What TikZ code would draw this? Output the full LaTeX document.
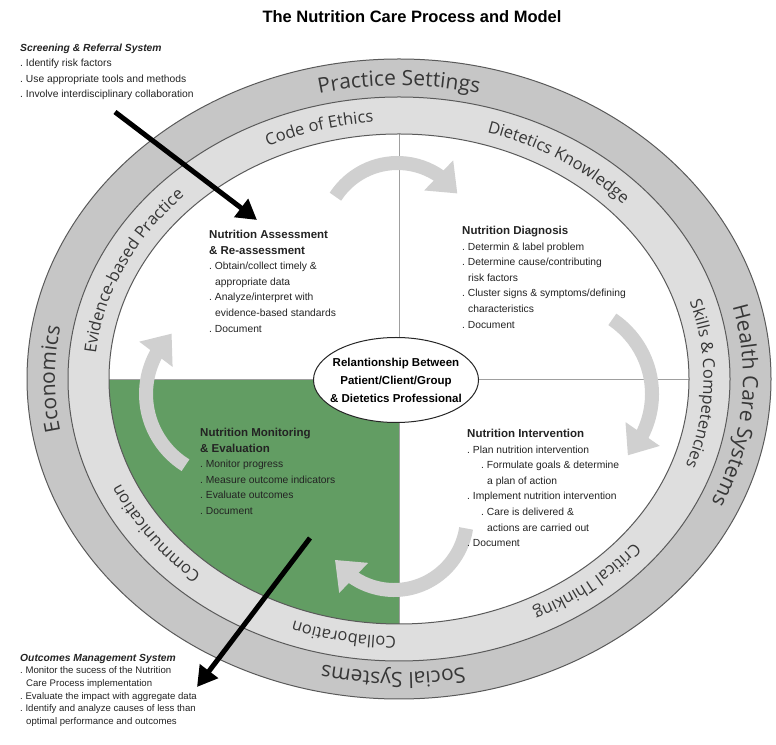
\documentclass[tikz,border=0pt]{standalone}
\usepackage{fontspec}
\setmainfont{Liberation Sans}
\newfontfamily\bodyfont{Liberation Sans}
\newfontfamily\headfont{Liberation Sans}
\newfontfamily\bandfont{Open Sans}
\usetikzlibrary{shapes.geometric}
\usetikzlibrary{arrows.meta}
\usetikzlibrary{bending}
\usetikzlibrary{decorations.text}
\definecolor{outerband}{RGB}{198,198,198}
\definecolor{innerband}{RGB}{222,222,222}
\definecolor{bandline}{RGB}{90,90,90}
\definecolor{quadgreen}{RGB}{98,157,99}
\definecolor{cyclegrey}{RGB}{208,208,208}
\definecolor{labelgrey}{RGB}{55,55,55}
\definecolor{bodytext}{RGB}{35,35,35}
\newcommand{\qhead}[1]{{\headfont\bfseries\fontsize{11.5}{15.6}\selectfont #1}}
\newcommand{\shead}[1]{{\headfont\bfseries\itshape\fontsize{10.3}{12.6}\selectfont #1}}
\tikzset{
    band/.style = {draw=bandline, line width=1pt},
    quadline/.style = {draw=gray!75, line width=0.8pt},
    cyclearrow/.style = {draw=cyclegrey, line width=14pt, -{Triangle[length=26pt,width=40pt]}},
    bigarrow/.style = {draw=black, line width=5pt, -{Triangle[length=20pt,width=22pt]}},
    titlenode/.style = {inner sep=0pt, font=\headfont\bfseries\fontsize{16.5}{18}\selectfont},
    quadtext/.style = {anchor=north west, align=left, inner sep=0pt, text=bodytext, font=\bodyfont\fontsize{10.3}{15.6}\selectfont},
    sidetext/.style = {quadtext, font=\bodyfont\fontsize{10.3}{15.2}\selectfont},
    notetext/.style = {quadtext, font=\bodyfont\fontsize{9.6}{12.6}\selectfont},
    relbox/.style = {ellipse, draw=black!85, fill=white, line width=1pt, minimum width=165pt, minimum height=85pt, inner sep=0pt},
    reltext/.style = {align=center, inner sep=0pt, font=\headfont\bfseries\fontsize{11.5}{18}\selectfont},
    outerlabel/.style = {decorate, decoration={text along path, text align=center, text color=labelgrey, text={|\bandfont\fontsize{21}{21}\selectfont|#1}}},
    innerlabel/.style = {decorate, decoration={text along path, text align=center, text color=labelgrey, text={|\bandfont\fontsize{16.5}{16.5}\selectfont|#1}}}
}
\begin{document}
\begin{tikzpicture}[x=1pt, y=1pt]
  \useasboundingbox (0,0) rectangle (776,744);
  \coordinate (C) at (399,365);
  % rings
  \draw[band, fill=outerband] (C) ellipse [x radius=372pt, y radius=320pt];
  \draw[band, fill=innerband] (C) ellipse [x radius=331pt, y radius=282pt];
  \fill[white] (C) ellipse [x radius=290pt, y radius=245pt];
  \begin{scope}
    \clip (C) ellipse [x radius=290pt, y radius=245pt];
    \fill[quadgreen] (C) rectangle ++(-300,-260);
  \end{scope}
  \draw[quadline] (399,610) -- (399,120);
  \draw[quadline] (109,365) -- (689,365);
  \draw[band] (C) ellipse [x radius=290pt, y radius=245pt];

  % cycle arrows
  \coordinate (topc) at (397.5,507);
  \coordinate (rightc) at (562,350);
  \coordinate (botc) at (394,227);
  \coordinate (leftc) at (230,350);
  \draw[cyclearrow] ([shift={(147:74pt)}]topc) arc[start angle=147, end angle=36, radius=74pt];
  \draw[cyclearrow] ([shift={(56:90pt)}]rightc) arc[start angle=56, end angle=-43, radius=90pt];
  \draw[cyclearrow] ([shift={(-9:73pt)}]botc) arc[start angle=-9, end angle=-144, radius=73pt];
  \draw[cyclearrow] ([shift={(238:84pt)}]leftc) arc[start angle=238, end angle=134, radius=84pt];

  \node[relbox] (rel) at (396,364) {};
  \node[reltext] (reltxt) at (rel.center) {Relantionship Between\\Patient/Client/Group\\\& Dietetics Professional};

  \node[titlenode] (title) at (412,727) {The Nutrition Care Process and Model};

  \node[quadtext] (assess) at (209,514) {\qhead{Nutrition Assessment}\\ \qhead{\& Re-assessment}\\
    .\ Obtain/collect timely \&\\ \hspace*{6pt}appropriate data\\
    .\ Analyze/interpret with\\ \hspace*{6pt}evidence-based standards\\ .\ Document};
  \node[quadtext] (diagnose) at (462,518) {\qhead{Nutrition Diagnosis}\\ .\ Determin \& label problem\\
    .\ Determine cause/contributing\\ \hspace*{6pt}risk factors\\
    .\ Cluster signs \& symptoms/defining\\ \hspace*{6pt}characteristics\\ .\ Document};
  \node[quadtext] (interv) at (467,315) {\qhead{Nutrition Intervention}\\ .\ Plan nutrition intervention\\
    \hspace*{14pt}.\ Formulate goals \& determine\\ \hspace*{20pt}a plan of action\\
    .\ Implement nutrition intervention\\ \hspace*{14pt}.\ Care is delivered \&\\
    \hspace*{20pt}actions are carried out\\ .\ Document};
  \node[quadtext] (monitor) at (200,316) {\qhead{Nutrition Monitoring}\\ \qhead{\& Evaluation}\\
    .\ Monitor progress\\ .\ Measure outcome indicators\\ .\ Evaluate outcomes\\ .\ Document};

  \node[sidetext] (screen) at (20,700) {\shead{Screening \& Referral System}\\ .\ Identify risk factors\\
    .\ Use appropriate tools and methods\\ .\ Involve interdisciplinary collaboration};
  \node[notetext] (outcome) at (20,90) {\shead{Outcomes Management System}\\
    .\ Monitor the sucess of the Nutrition\\ \hspace*{6pt}Care Process implementation\\
    .\ Evaluate the impact with aggregate data\\ .\ Identify and analyze causes of less than\\
    \hspace*{6pt}optimal performance and outcomes};

  % band labels
  \path[outerlabel={Practice Settings}] ([shift={(130:344pt and 293.5pt)}]C) arc[start angle=130, end angle=50, x radius=344pt, y radius=293.5pt];
  \path[outerlabel={Health Care Systems}] ([shift={(35:344pt and 293.5pt)}]C) arc[start angle=35, end angle=-45, x radius=344pt, y radius=293.5pt];
  \path[outerlabel={Social Systems}] ([shift={(-51:344pt and 293.5pt)}]C) arc[start angle=-51, end angle=-131, x radius=344pt, y radius=293.5pt];
  \path[outerlabel={Economics}] ([shift={(220:344pt and 293.5pt)}]C) arc[start angle=220, end angle=140, x radius=344pt, y radius=293.5pt];
  \path[innerlabel={Code of Ethics}] ([shift={(146:304.5pt and 257.5pt)}]C) arc[start angle=146, end angle=66, x radius=304.5pt, y radius=257.5pt];
  \path[innerlabel={Dietetics Knowledge}] ([shift={(96:304.5pt and 257.5pt)}]C) arc[start angle=96, end angle=17, x radius=304.5pt, y radius=257.5pt];
  \path[innerlabel={Skills {\&} Competencies}] ([shift={(44:304.5pt and 257.5pt)}]C) arc[start angle=44, end angle=-46, x radius=304.5pt, y radius=257.5pt];
  \path[innerlabel={Critical Thinking}] ([shift={(-10:304.5pt and 257.5pt)}]C) arc[start angle=-10, end angle=-90, x radius=304.5pt, y radius=257.5pt];
  \path[innerlabel={Collaboration}] ([shift={(-61:304.5pt and 257.5pt)}]C) arc[start angle=-61, end angle=-141, x radius=304.5pt, y radius=257.5pt];
  \path[innerlabel={Communication}] ([shift={(-105:304.5pt and 257.5pt)}]C) arc[start angle=-105, end angle=-185, x radius=304.5pt, y radius=257.5pt];
  \path[innerlabel={Evidence-based Practice}] ([shift={(201:304.5pt and 257.5pt)}]C) arc[start angle=201, end angle=111, x radius=304.5pt, y radius=257.5pt];

  % system arrows
  \coordinate (scrtail) at (115,632);
  \coordinate (scrtip) at (257,524);
  \coordinate (outtail) at (310,206);
  \coordinate (outtip) at (197,57);
  \draw[bigarrow] (scrtail) -- (scrtip);
  \draw[bigarrow] (outtail) -- (outtip);
\end{tikzpicture}
\end{document}
